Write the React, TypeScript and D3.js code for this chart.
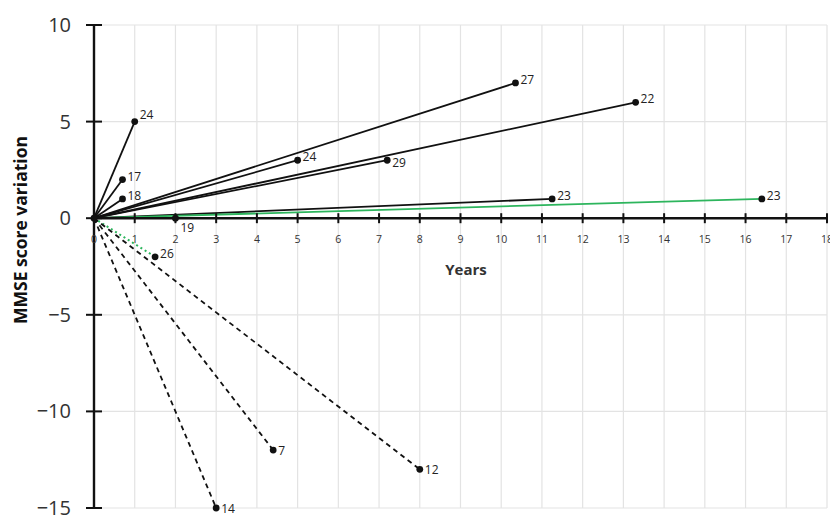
import { useEffect, useRef } from "react";
import * as d3 from "d3";

// Follow-up end points per patient (origin is always 0,0)
const years = [1, 0.7, 0.7, 2, 5, 7.2, 10.35, 13.3, 11.25, 16.4, 1.5, 4.4, 8, 3];
const scoreChange = [5, 2, 1, 0, 3, 3, 7, 6, 1, 1, -2, -12, -13, -15];
const baseline = ["24", "17", "18", "19", "24", "29", "27", "22", "23", "23", "26", "7", "12", "14"];
const course = ["up", "up", "up", "flat", "up", "up", "up", "up", "up", "treated", "treatedDown", "down", "down", "down"];

const xTicks = d3.range(0, 19);
const yTicks = [10, 5, 0, -5, -10, -15];

export default function App() {
  const svgRef = useRef<SVGSVGElement>(null);

  useEffect(() => {
    const width = 830,
      height = 517;
    const svg = d3.select(svgRef.current).attr("width", width).attr("height", height);
    svg.selectAll("*").remove();

    const x = d3.scaleLinear().domain([0, 18]).range([94, 827]);
    const y = d3.scaleLinear().domain([-15, 10]).range([508, 25]);
    const font = "'Open Sans', Lato, sans-serif";

    // grid
    svg
      .append("g")
      .selectAll("line")
      .data(xTicks.slice(1))
      .join("line")
      .attr("x1", (d) => x(d))
      .attr("x2", (d) => x(d))
      .attr("y1", y(10))
      .attr("y2", y(-15))
      .attr("stroke", "#e3e3e3")
      .attr("stroke-width", 1.2);
    svg
      .append("g")
      .selectAll("line")
      .data(yTicks.filter((d) => d !== 0))
      .join("line")
      .attr("x1", x(0))
      .attr("x2", x(18))
      .attr("y1", (d) => y(d))
      .attr("y2", (d) => y(d))
      .attr("stroke", "#e3e3e3")
      .attr("stroke-width", 1.2);

    // lines from origin
    const lines = svg.append("g");
    years.forEach((yr, i) => {
      const c = course[i];
      const ln = lines
        .append("line")
        .attr("x1", x(0))
        .attr("y1", y(0))
        .attr("x2", x(yr))
        .attr("y2", y(scoreChange[i]))
        .attr("stroke", c === "treated" || c === "treatedDown" ? "#2db55d" : "#111")
        .attr("stroke-width", c === "treatedDown" ? 2 : 1.8);
      if (c === "down") ln.attr("stroke-dasharray", "5,4");
      if (c === "treatedDown") ln.attr("stroke-dasharray", "2,3");
    });

    // axes
    svg
      .append("line")
      .attr("x1", x(0))
      .attr("x2", x(18))
      .attr("y1", y(0))
      .attr("y2", y(0))
      .attr("stroke", "#111")
      .attr("stroke-width", 2.4);
    svg
      .append("line")
      .attr("x1", x(0))
      .attr("x2", x(0))
      .attr("y1", y(10))
      .attr("y2", y(-15))
      .attr("stroke", "#111")
      .attr("stroke-width", 2.4);

    svg
      .append("g")
      .selectAll("line")
      .data(xTicks)
      .join("line")
      .attr("x1", (d) => x(d))
      .attr("x2", (d) => x(d))
      .attr("y1", y(0) - 5)
      .attr("y2", y(0) + 5)
      .attr("stroke", "#111")
      .attr("stroke-width", 2);
    svg
      .append("g")
      .selectAll("line")
      .data(yTicks)
      .join("line")
      .attr("x1", x(0) - 8)
      .attr("x2", x(0) + 8)
      .attr("y1", (d) => y(d))
      .attr("y2", (d) => y(d))
      .attr("stroke", "#111")
      .attr("stroke-width", 2);

    // tick labels
    svg
      .append("g")
      .selectAll("text")
      .data(xTicks)
      .join("text")
      .attr("x", (d) => x(d))
      .attr("y", y(0) + 25)
      .attr("text-anchor", "middle")
      .attr("font-family", font)
      .attr("font-size", 10.5)
      .attr("fill", "#333")
      .text((d) => d);
    svg
      .append("g")
      .selectAll("text")
      .data(yTicks)
      .join("text")
      .attr("x", 71)
      .attr("y", (d) => y(d) + 7)
      .attr("text-anchor", "end")
      .attr("font-family", font)
      .attr("font-size", 20)
      .attr("fill", "#333")
      .text((d) => (d < 0 ? "\u2212" + Math.abs(d) : d));

    // axis titles
    svg
      .append("text")
      .attr("x", 466)
      .attr("y", 275)
      .attr("text-anchor", "middle")
      .attr("font-family", font)
      .attr("font-size", 15)
      .attr("font-weight", "bold")
      .attr("fill", "#333")
      .text("Years");
    svg
      .append("text")
      .attr("transform", "translate(27,230) rotate(-90)")
      .attr("text-anchor", "middle")
      .attr("font-family", font)
      .attr("font-size", 17.5)
      .attr("font-weight", "bold")
      .attr("fill", "#111")
      .text("MMSE score variation");

    // end points and baseline MMSE labels
    const pts = svg.append("g");
    pts
      .selectAll("circle")
      .data(years)
      .join("circle")
      .attr("cx", (d) => x(d))
      .attr("cy", (_, i) => y(scoreChange[i]))
      .attr("r", 3.4)
      .attr("fill", "#111");
    pts
      .append("circle")
      .attr("cx", x(0))
      .attr("cy", y(0))
      .attr("r", 3.4)
      .attr("fill", "#111");
    pts
      .selectAll("text")
      .data(years)
      .join("text")
      .attr("x", (d) => x(d) + 5)
      .attr("y", (_, i) => y(scoreChange[i]) + (scoreChange[i] === 0 ? 14 : course[i] === "down" ? 5 : 1))
      .attr("dy", (_, i) => (i === 0 ? -4 : i === 5 ? 6 : 0))
      .attr("font-family", font)
      .attr("font-size", 12)
      .attr("fill", "#222")
      .text((_, i) => baseline[i]);
  }, []);

  return <svg ref={svgRef} style={{ position: "absolute", left: 0, top: 0, background: "#fff" }}></svg>;
}
